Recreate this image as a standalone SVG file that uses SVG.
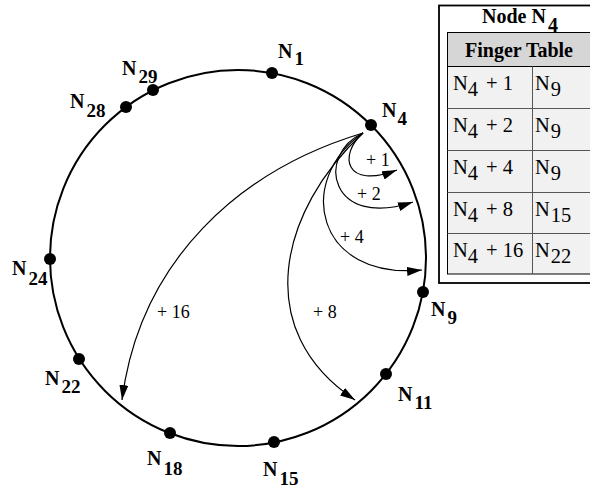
<svg xmlns="http://www.w3.org/2000/svg" width="590" height="491" viewBox="0 0 590 491">
<defs>
<style>
.ring{fill:none;stroke:#000;stroke-width:2}
.dot{fill:#000}
.lbl{font-family:"Liberation Serif","Times New Roman",serif;font-weight:bold;font-size:20px;fill:#000}
.arc{fill:none;stroke:#000;stroke-width:1.2;marker-end:url(#ah)}
.alb{font-family:"Liberation Serif","Times New Roman",serif;font-size:18px;fill:#000}
.tt{font-family:"Liberation Serif","Times New Roman",serif;font-size:20.5px;fill:#000}
.tb{font-family:"Liberation Serif","Times New Roman",serif;font-weight:bold;font-size:20px;fill:#000}
.grid{stroke:#555;stroke-width:1}
</style>
<marker id="ah" markerUnits="userSpaceOnUse" markerWidth="16" markerHeight="10" refX="15" refY="4.5" orient="auto">
<path d="M0,0 L15,4.5 L0,9 z" fill="#000"/>
</marker>
</defs>
<circle class="ring" cx="238" cy="258" r="188"/>
<g id="connectors">
<path class="arc" d="M363,133 C338,155 345,190 397,170"/>
<path class="arc" d="M363,133 C315,155 330,230 413,202"/>
<path class="arc" d="M363,133 C295,180 315,280 422,270"/>
<path class="arc" d="M363,133 C280,210 250,330 355,400"/>
<path class="arc" d="M363,133 C240,170 140,260 122,400"/>
<text class="alb" x="366" y="166">+ 1</text>
<text class="alb" x="357" y="200">+ 2</text>
<text class="alb" x="340" y="243">+ 4</text>
<text class="alb" x="313" y="318">+ 8</text>
<text class="alb" x="157" y="318">+ 16</text>
</g>
<g id="n1"><circle class="dot" cx="272" cy="73" r="6"/><text class="lbl" x="278" y="58">N<tspan dx="2" dy="7" font-size="19">1</tspan></text></g>
<g id="n4"><circle class="dot" cx="371" cy="125" r="6"/><text class="lbl" x="382" y="117">N<tspan dx="1" dy="8" font-size="19">4</tspan></text></g>
<g id="n9"><circle class="dot" cx="423" cy="292" r="6"/><text class="lbl" x="431" y="316">N<tspan dx="2" dy="8" font-size="19">9</tspan></text></g>
<g id="n11"><circle class="dot" cx="386" cy="374" r="6"/><text class="lbl" x="398" y="401">N<tspan dx="2" dy="8" font-size="19">11</tspan></text></g>
<g id="n15"><circle class="dot" cx="274" cy="442" r="6"/><text class="lbl" x="263" y="476">N<tspan dx="2" dy="9" font-size="19">15</tspan></text></g>
<g id="n18"><circle class="dot" cx="170" cy="433" r="6"/><text class="lbl" x="147" y="465">N<tspan dx="2" dy="10" font-size="19">18</tspan></text></g>
<g id="n22"><circle class="dot" cx="79" cy="359" r="6"/><text class="lbl" x="45" y="385">N<tspan dx="2" dy="8" font-size="19">22</tspan></text></g>
<g id="n24"><circle class="dot" cx="50" cy="259" r="6"/><text class="lbl" x="12" y="275">N<tspan dx="2" dy="10" font-size="19">24</tspan></text></g>
<g id="n28"><circle class="dot" cx="126" cy="107" r="6"/><text class="lbl" x="70" y="108">N<tspan dx="2" dy="9" font-size="19">28</tspan></text></g>
<g id="n29"><circle class="dot" cx="153" cy="90" r="6"/><text class="lbl" x="122" y="75">N<tspan dx="2" dy="8" font-size="19">29</tspan></text></g>
<g id="finger-table">
<rect x="439" y="5.5" width="170" height="277.5" fill="#fff" stroke="#000" stroke-width="1.8"/>
<rect x="447.5" y="32.5" width="160" height="34" fill="#d6d6d6"/>
<rect x="447.5" y="66.5" width="160" height="207.5" fill="#f1f1f1"/>
<rect x="447.5" y="32.5" width="160" height="241.5" fill="none" stroke="#000" stroke-width="1"/>
<line class="grid" x1="447.5" y1="66.5" x2="590" y2="66.5" style="stroke:#000"/>
<line class="grid" x1="447.5" y1="108.5" x2="590" y2="108.5"/>
<line class="grid" x1="447.5" y1="150.5" x2="590" y2="150.5"/>
<line class="grid" x1="447.5" y1="192.5" x2="590" y2="192.5"/>
<line class="grid" x1="447.5" y1="233.5" x2="590" y2="233.5"/>
<line class="grid" x1="532.5" y1="66.5" x2="532.5" y2="274"/>
<text class="tb" x="482" y="23">Node N<tspan dx="2" dy="9">4</tspan></text>
<text class="tb" x="465" y="57">Finger Table</text>
<text class="tt" x="453" y="90">N<tspan dy="6">4</tspan></text><text class="tt" x="486" y="90">+ 1</text><text class="tt" x="535" y="90">N<tspan dx="1" dy="6">9</tspan></text>
<text class="tt" x="453" y="132">N<tspan dy="6">4</tspan></text><text class="tt" x="486" y="132">+ 2</text><text class="tt" x="535" y="132">N<tspan dx="1" dy="6">9</tspan></text>
<text class="tt" x="453" y="174">N<tspan dy="6">4</tspan></text><text class="tt" x="486" y="174">+ 4</text><text class="tt" x="535" y="174">N<tspan dx="1" dy="6">9</tspan></text>
<text class="tt" x="453" y="216">N<tspan dy="6">4</tspan></text><text class="tt" x="486" y="216">+ 8</text><text class="tt" x="535" y="216">N<tspan dx="1" dy="6">15</tspan></text>
<text class="tt" x="453" y="257">N<tspan dy="6">4</tspan></text><text class="tt" x="486" y="257">+ 16</text><text class="tt" x="535" y="257">N<tspan dx="1" dy="6">22</tspan></text>
</g>
</svg>
